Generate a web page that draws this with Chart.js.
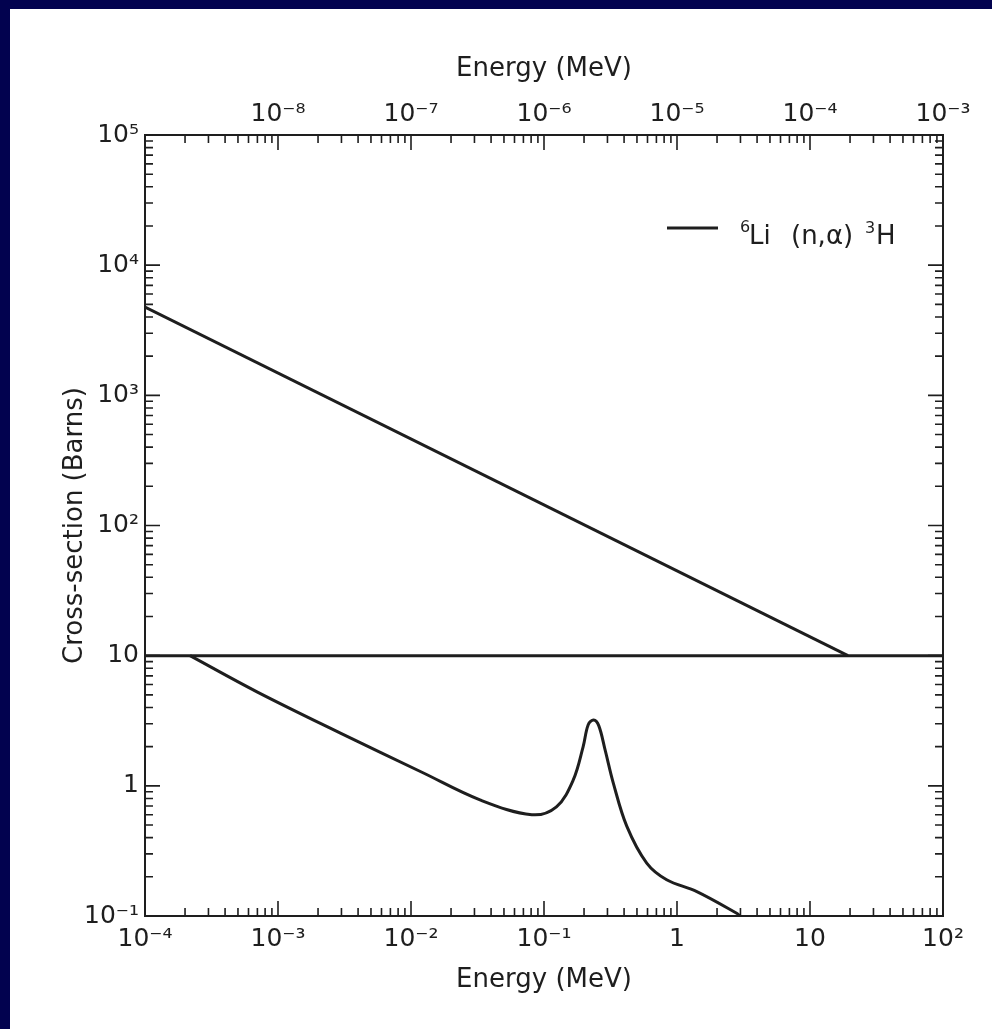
<!DOCTYPE html>
<html>
<head>
<meta charset="utf-8">
<title>6Li(n,alpha)3H cross-section</title>
<script src="https://cdn.jsdelivr.net/npm/chart.js@4.4.1/dist/chart.umd.min.js"></script>
<style>
  html, body { margin: 0; padding: 0; }
  body { width: 992px; height: 1029px; background: #02024f; position: relative; overflow: hidden; }
  #chart { position: absolute; left: 10px; top: 9px; background: #ffffff; }
</style>
</head>
<body>
<canvas id="chart" width="982" height="1020"></canvas>
<script>
// upper branch, read against the top energy axis (MeV)
const upperEnergy = [1e-9, 1.93e-4];
const upperSigma = [4770, 10];

// lower branch, read against the bottom energy axis (MeV)
const lowerEnergy = [2.18e-4, 6.95e-4, 2.92e-3, 1.23e-2, 3.30e-2, 0.081, 0.124, 0.166, 0.197, 0.215, 0.236, 0.258, 0.288, 0.332, 0.419, 0.592, 0.836, 1.41, 2.81, 2.98];
const lowerSigma  = [10,      5.27,    2.55,    1.26,    0.78,    0.60,  0.69,  1.11,  2.0,   2.95,  3.2,   2.9,   1.89,  1.05,  0.49,  0.255, 0.19,  0.154, 0.105, 0.10];

// horizontal line at 10 barns across the frame
const dividerEnergy = [1e-4, 1e2];
const dividerSigma = [10, 10];

// tick labels
const bottomTickValues = [1e-4, 1e-3, 1e-2, 1e-1, 1, 10, 100];
const bottomTickLabels = ['10⁻⁴', '10⁻³', '10⁻²', '10⁻¹', '1', '10', '10²'];
const topTickValues = [1e-8, 1e-7, 1e-6, 1e-5, 1e-4, 1e-3];
const topTickLabels = ['10⁻⁸', '10⁻⁷', '10⁻⁶', '10⁻⁵', '10⁻⁴', '10⁻³'];
const yTickValues = [0.1, 1, 10, 100, 1000, 1e4, 1e5];
const yTickLabels = ['10⁻¹', '1', '10', '10²', '10³', '10⁴', '10⁵'];

const ink = '#1e1e1e';

function toPoints(xs, ys) {
    return xs.map((x, i) => ({ x: x, y: ys[i] }));
}

function labelFor(values, labels) {
    return function(value) {
        const i = values.findIndex(v => Math.abs(Math.log10(v) - Math.log10(value)) < 1e-6);
        return i >= 0 ? labels[i] : '';
    };
}

function fixedTicks(values) {
    return function(scale) {
        scale.ticks = values.map(v => ({ value: v }));
    };
}

// frame plus inward log ticks on all four sides
const frameTicks = {
    id: 'frameTicks',
    afterDatasetsDraw(chart) {
        const { ctx, chartArea: a, scales } = chart;
        ctx.save();
        ctx.strokeStyle = ink;
        ctx.lineWidth = 2;
        ctx.strokeRect(a.left, a.top, a.right - a.left, a.bottom - a.top);

        ctx.lineWidth = 1.6;
        ctx.beginPath();
        function eachLogTick(scale, fn) {
            const lo = Math.floor(Math.log10(scale.min) + 1e-9);
            const hi = Math.ceil(Math.log10(scale.max) - 1e-9);
            for (let e = lo; e <= hi; e++) {
                for (let m = 1; m <= 9; m++) {
                    const v = m * Math.pow(10, e);
                    if (v < scale.min * 0.999 || v > scale.max * 1.001) continue;
                    fn(scale.getPixelForValue(v), m === 1 ? 15 : 8);
                }
            }
        }
        eachLogTick(scales.x, (px, len) => { ctx.moveTo(px, a.bottom); ctx.lineTo(px, a.bottom - len); });
        eachLogTick(scales.x2, (px, len) => { ctx.moveTo(px, a.top); ctx.lineTo(px, a.top + len); });
        eachLogTick(scales.y, (py, len) => {
            ctx.moveTo(a.left, py); ctx.lineTo(a.left + len, py);
            ctx.moveTo(a.right, py); ctx.lineTo(a.right - len, py);
        });
        ctx.stroke();
        ctx.restore();
    }
};

// legend: line sample and 6Li (n,α) 3H with raised mass numbers
const reactionLegend = {
    id: 'reactionLegend',
    afterDraw(chart) {
        const ctx = chart.ctx;
        const a = chart.chartArea;
        const x0 = a.right - 276, y0 = a.top + 93;
        ctx.save();
        ctx.strokeStyle = ink;
        ctx.lineWidth = 3;
        ctx.beginPath();
        ctx.moveTo(x0, y0);
        ctx.lineTo(x0 + 51, y0);
        ctx.stroke();

        ctx.fillStyle = ink;
        ctx.textBaseline = 'alphabetic';
        ctx.textAlign = 'left';
        const base = y0 + 16;
        ctx.font = '16px "DejaVu Sans"';
        ctx.fillText('6', x0 + 73, base - 12);
        ctx.fillText('3', x0 + 198, base - 11);
        ctx.font = '26px "DejaVu Sans"';
        ctx.fillText('Li', x0 + 82, base);
        ctx.fillText('(n,α)', x0 + 124, base);
        ctx.fillText('H', x0 + 209, base);
        ctx.restore();
    }
};

const tickFont = { family: 'DejaVu Sans', size: 25 };
const titleFont = { family: 'DejaVu Sans', size: 26 };

new Chart(document.getElementById('chart'), {
    type: 'line',
    data: {
        datasets: [
            {
                label: 'upper',
                data: toPoints(upperEnergy, upperSigma),
                xAxisID: 'x2',
                yAxisID: 'y',
                borderColor: ink,
                borderWidth: 3,
                pointRadius: 0,
                fill: false
            },
            {
                label: 'divider',
                data: toPoints(dividerEnergy, dividerSigma),
                xAxisID: 'x',
                yAxisID: 'y',
                borderColor: ink,
                borderWidth: 3,
                pointRadius: 0,
                fill: false
            },
            {
                label: '6Li (n,α) 3H',
                data: toPoints(lowerEnergy, lowerSigma),
                xAxisID: 'x',
                yAxisID: 'y',
                borderColor: ink,
                borderWidth: 3,
                pointRadius: 0,
                fill: false,
                tension: 0.35
            }
        ]
    },
    options: {
        responsive: false,
        animation: false,
        layout: { padding: { left: 0, right: 49, top: 0, bottom: 0 } },
        plugins: {
            legend: { display: false },
            tooltip: { enabled: false }
        },
        scales: {
            x: {
                type: 'logarithmic',
                position: 'bottom',
                min: 1e-4,
                max: 1e2,
                afterBuildTicks: fixedTicks(bottomTickValues),
                afterFit: s => { s.height = 113; },
                grid: { display: false, drawTicks: false },
                border: { display: false },
                ticks: {
                    autoSkip: false,
                    maxRotation: 0,
                    padding: 8,
                    color: ink,
                    font: tickFont,
                    callback: labelFor(bottomTickValues, bottomTickLabels)
                },
                title: {
                    display: true,
                    text: 'Energy (MeV)',
                    color: ink,
                    font: titleFont,
                    padding: { top: 0, bottom: 33 }
                }
            },
            x2: {
                type: 'logarithmic',
                position: 'top',
                min: 1e-9,
                max: 1e-3,
                afterBuildTicks: fixedTicks(topTickValues),
                afterFit: s => { s.height = 126; },
                grid: { display: false, drawTicks: false },
                border: { display: false },
                ticks: {
                    autoSkip: false,
                    maxRotation: 0,
                    padding: 6,
                    color: ink,
                    font: tickFont,
                    callback: labelFor(topTickValues, topTickLabels)
                },
                title: {
                    display: true,
                    text: 'Energy (MeV)',
                    color: ink,
                    font: titleFont,
                    padding: { top: 45, bottom: 0 }
                }
            },
            y: {
                type: 'logarithmic',
                position: 'left',
                min: 0.1,
                max: 1e5,
                afterBuildTicks: fixedTicks(yTickValues),
                afterFit: s => { s.width = 135; },
                grid: { display: false, drawTicks: false },
                border: { display: false },
                ticks: {
                    autoSkip: false,
                    padding: 6,
                    color: ink,
                    font: tickFont,
                    callback: labelFor(yTickValues, yTickLabels)
                },
                title: {
                    display: true,
                    text: 'Cross-section (Barns)',
                    color: ink,
                    font: titleFont,
                    padding: { top: 50, bottom: 0 }
                }
            }
        }
    },
    plugins: [frameTicks, reactionLegend]
});
</script>
</body>
</html>
